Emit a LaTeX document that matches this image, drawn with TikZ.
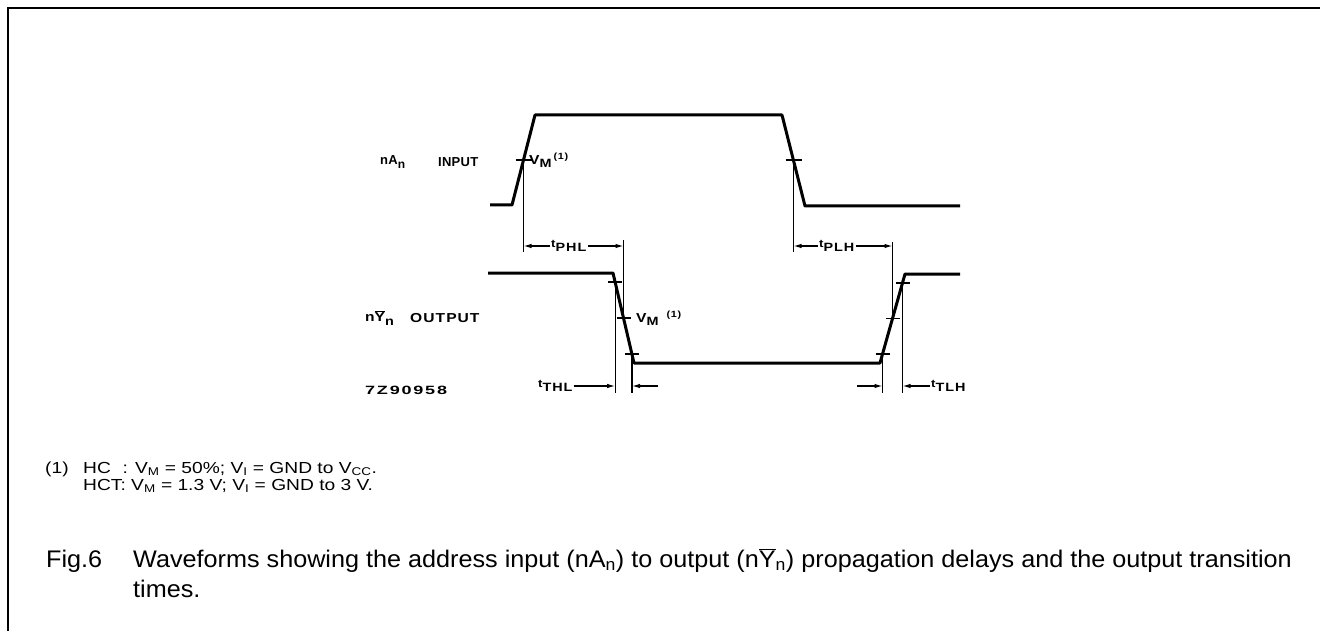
\documentclass[tikz,border=0pt]{standalone}
\usepackage{fontspec}
\setmainfont{Liberation Sans}
\newfontfamily\fnfont[FakeStretch=1.2]{Liberation Sans}
\newfontfamily\capfont[FakeStretch=1.05]{Liberation Sans}
\newfontfamily\lblfont[FakeStretch=1.2,LetterSpace=8]{Liberation Sans Bold}
\newfontfamily\lbltight[LetterSpace=2]{Liberation Sans Bold}
\newfontfamily\codefont[FakeStretch=1.5,LetterSpace=15]{Liberation Sans Bold}
\newcommand\lsub[1]{\raisebox{-3.5pt}{\fontsize{12}{12}\selectfont #1}}
\newcommand\lsup[1]{\raisebox{5pt}{\fontsize{9}{9}\selectfont #1}}
\usetikzlibrary{arrows.meta}
\begin{document}
\begin{tikzpicture}[x=1pt,y=-1pt,
  wave/.style={line width=3pt, line join=round},
  dim/.style={line width=1.2pt},
  tickmark/.style={line width=1.5pt},
  arr/.style={line width=1.2pt,-{Latex[length=8pt,width=4.5pt]}},
  lbl/.style={font=\fontsize{13}{15}\lblfont, inner sep=1pt},
  tlbl/.style={font=\fontsize{11}{13}\lblfont, inner sep=1pt},
  captext/.style={font=\fontsize{24}{30}\capfont, inner sep=0pt, anchor=base west},
  fn/.style={font=\fontsize{16}{17}\fnfont, inner sep=0pt, anchor=base west},
]
\useasboundingbox (0,0) rectangle (1320,631);
\draw[line width=2pt] (1320,8) -- (8,8) -- (8,631);

% input waveform
\coordinate (i0) at (490,205);
\coordinate (i1) at (512,205);
\coordinate (i2) at (535,115);
\coordinate (i3) at (782,115);
\coordinate (i4) at (805,206);
\coordinate (i5) at (960,206);
\draw[wave] (i0) -- (i1) -- (i2) -- (i3) -- (i4) -- (i5);
\coordinate (ia) at (523.5,160);
\coordinate (ib) at (793.5,160);
\draw[tickmark] (ia) ++(-8,0) -- ++(16,0);
\draw[tickmark] (ib) ++(-8,0) -- ++(16,0);

% output waveform
\coordinate (o0) at (488,273);
\coordinate (o1) at (613,273);
\coordinate (o2) at (634,363);
\coordinate (o3) at (880,363);
\coordinate (o4) at (905,274);
\coordinate (o5) at (960,274);
\draw[wave] (o0) -- (o1) -- (o2) -- (o3) -- (o4) -- (o5);
\coordinate (oa1) at (615.1,282);
\coordinate (oa2) at (623.5,318);
\coordinate (oa3) at (632,354);
\coordinate (ob1) at (882.5,354);
\coordinate (ob2) at (892.5,318.5);
\coordinate (ob3) at (902.5,283);
\foreach \p in {oa1,oa2,oa3,ob1,ob2,ob3}
  \draw[tickmark] (\p) ++(-7,0) -- ++(14,0);

% reference verticals
\draw[dim] (ia) -- ++(0,92);
\draw[dim] (ib) -- ++(0,92);
\coordinate (pa) at (623.5,240);
\coordinate (pb) at (892.5,242);
\draw[dim] (pa) -- (oa2);
\draw[dim] (pb) -- (ob2);
\draw[dim] (oa1) -- ++(0,111);
\draw[dim] (oa3) -- ++(0,39);
\draw[dim] (ob1) -- ++(0,39);
\draw[dim] (ob3) -- ++(0,110);

% signal labels
\node[font=\fontsize{13}{15}\lbltight, inner sep=1pt, anchor=west] (inA) at (379,162) {nA\lsub{n}};
\node[font=\fontsize{13}{15}\lbltight, inner sep=1pt, anchor=west] (inlbl) at (437,162) {INPUT};
\node[lbl, anchor=west] (outY) at (364,318) {n$\overline{\hbox{Y}}$\lsub{n}};
\node[lbl, anchor=west] (outlbl) at (409,318) {OUTPUT};
\node[font=\fontsize{12}{14}\codefont, inner sep=1pt, anchor=west] (code) at (364,390) {7Z90958};
\node[lbl, anchor=west] (vm1) at (528,160) {V\lsub{M}\hspace{2pt}\lsup{(1)}};
\node[lbl, anchor=west] (vm2) at (635,318) {V\lsub{M}\hspace{8pt}\lsup{(1)}};

% propagation delays
\node[tlbl, anchor=west] (tphl) at (550,246) {t\lsub{PHL}};
\draw[arr] (tphl.west) -- (ia |- tphl);
\draw[arr] (tphl.east) -- (pa |- tphl);
\node[tlbl, anchor=west] (tplh) at (818,246) {t\lsub{PLH}};
\draw[arr] (tplh.west) -- (ib |- tplh);
\draw[arr] (tplh.east) -- (pb |- tplh);

% transition times
\node[tlbl, anchor=west] (tthl) at (537,386) {t\lsub{THL}};
\draw[arr] (tthl.east) -- (oa1 |- tthl);
\coordinate (thr) at (658,386);
\draw[arr] (thr) -- (oa3 |- thr);
\coordinate (tll) at (857,386);
\draw[arr] (tll) -- (ob1 |- tll);
\node[tlbl, anchor=west] (ttlh) at (930,386) {t\lsub{TLH}};
\draw[arr] (ttlh.west) -- (ob3 |- ttlh);

% footnote
\node[fn] (fn1) at (45,473) {(1)};
\node[fn] (fn2) at (83,473) {\rlap{HC}\hphantom{HCT}: V\textsubscript{M} = 50\%; V\textsubscript{I} = GND to V\textsubscript{CC}.};
\node[fn] (fn3) at (83,490) {HCT: V\textsubscript{M} = 1.3 V; V\textsubscript{I} = GND to 3 V.};

% caption
\node[captext] (fig) at (46,567) {Fig.6};
\node[captext] (cap1) at (133,567) {Waveforms showing the address input (nA\textsubscript{n}) to output (n$\overline{\hbox{Y}}$\textsubscript{n}) propagation delays and the output transition};
\node[captext] (cap2) at (133,597) {times.};
\end{tikzpicture}
\end{document}
